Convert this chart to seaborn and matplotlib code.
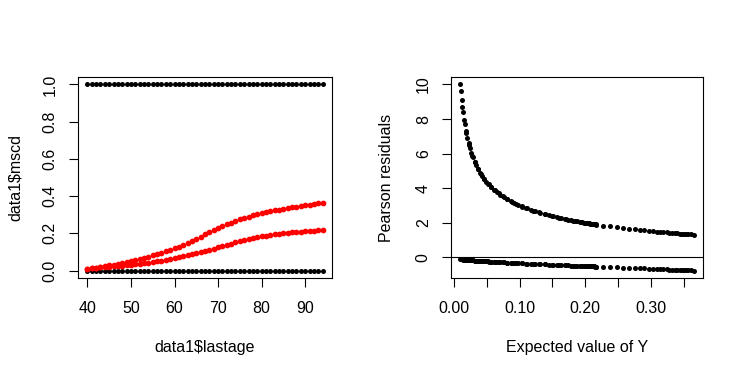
import numpy as np
import pandas as pd
import seaborn as sns
import matplotlib
matplotlib.use("Agg")
import matplotlib.pyplot as plt

sns.set_style("white")
plt.rcParams['font.family'] = ['Liberation Sans', 'DejaVu Sans']
plt.rcParams['text.color'] = 'black'
plt.rcParams['axes.labelcolor'] = 'black'

# ages 40..94 and observed outcomes (every age has both 0 and 1)
ages = list(range(40, 95))
outcomes = [0, 1]

# fitted probabilities
fit_high = [0.0107, 0.0130, 0.0156, 0.0190, 0.0230, 0.0280, 0.0320, 0.0365, 0.0410, 0.0465,
            0.0520, 0.0570, 0.0625, 0.0680, 0.0745, 0.0810, 0.0880, 0.0950, 0.1030, 0.1110,
            0.1200, 0.1290, 0.1390, 0.1490, 0.1600, 0.1710, 0.1820, 0.1940, 0.2050, 0.2160,
            0.2270, 0.2380, 0.2480, 0.2580, 0.2670, 0.2750, 0.2830, 0.2900, 0.2970, 0.3030,
            0.3090, 0.3140, 0.3190, 0.3240, 0.3280, 0.3320, 0.3360, 0.3400, 0.3440, 0.3470,
            0.3500, 0.3530, 0.3570, 0.3610, 0.3650]
fit_low = [0.0099, 0.0119, 0.0140, 0.0165, 0.0185, 0.0205, 0.0225, 0.0245, 0.0265, 0.0290,
           0.0315, 0.0340, 0.0370, 0.0400, 0.0430, 0.0460, 0.0495, 0.0530, 0.0570, 0.0615,
           0.0660, 0.0710, 0.0760, 0.0810, 0.0865, 0.0920, 0.0980, 0.1040, 0.1100, 0.1170,
           0.1240, 0.1310, 0.1380, 0.1450, 0.1510, 0.1570, 0.1630, 0.1690, 0.1740, 0.1790,
           0.1840, 0.1880, 0.1920, 0.1950, 0.1980, 0.2010, 0.2030, 0.2050, 0.2070, 0.2090,
           0.2110, 0.2130, 0.2140, 0.2155, 0.2170]

obs = pd.DataFrame([(a, y) for a in ages for y in outcomes], columns=['lastage', 'mscd'])
fits = pd.DataFrame({'lastage': ages * 2, 'fitted': fit_high + fit_low})

# pearson residuals for each fitted value and each outcome
res = pd.DataFrame([(p, y) for p in fit_high + fit_low for y in outcomes], columns=['p', 'y'])
res['resid'] = (res['y'] - res['p']) / np.sqrt(res['p'] * (1 - res['p']))

fig = plt.figure(figsize=(7.44, 3.76), dpi=100)
ax1 = fig.add_axes([78/744, 98/376, 254/744, 201/376])
ax2 = fig.add_axes([451/744, 98/376, 252/744, 201/376])

ms = 13
sns.scatterplot(data=obs, x='lastage', y='mscd', ax=ax1, color='black', s=ms, linewidth=0)
sns.scatterplot(data=fits, x='lastage', y='fitted', ax=ax1, color='red', s=ms + 4, linewidth=0)
ax1.set_xticks([40, 50, 60, 70, 80, 90])
ax1.set_yticks([0, 0.2, 0.4, 0.6, 0.8, 1.0])
ax1.set_yticklabels(['0.0', '0.2', '0.4', '0.6', '0.8', '1.0'])
ax1.set_xlabel('data1$lastage')
ax1.set_ylabel('data1$mscd')

sns.scatterplot(data=res, x='p', y='resid', ax=ax2, color='black', s=ms, linewidth=0)
ax2.axhline(0, color='black', linewidth=0.8)
ax2.set_xticks(np.arange(0, 0.36, 0.05))
ax2.set_xticklabels(['0.00', '', '0.10', '', '0.20', '', '0.30', ''])
ax2.set_yticks([0, 2, 4, 6, 8, 10])
ax2.set_xlabel('Expected value of Y')
ax2.set_ylabel('Pearson residuals')

for ax, ylp in ((ax1, 14.5), (ax2, 16)):
    ax.margins(0.04)
    ax.tick_params(direction='out', length=6.5, width=0.8, labelsize=11.5,
                   bottom=True, left=True, colors='black')
    ax.tick_params(axis='x', pad=10)
    ax.tick_params(axis='y', pad=8)
    plt.setp(ax.get_yticklabels(), rotation=90, va='center')
    ax.xaxis.label.set_size(11.5)
    ax.yaxis.label.set_size(11.5)
    ax.xaxis.labelpad = 17.5
    ax.yaxis.labelpad = ylp
    for sp in ax.spines.values():
        sp.set_visible(True)
        sp.set_color('black')
        sp.set_linewidth(0.8)

fig.savefig('out.png', dpi=100, facecolor='white')
